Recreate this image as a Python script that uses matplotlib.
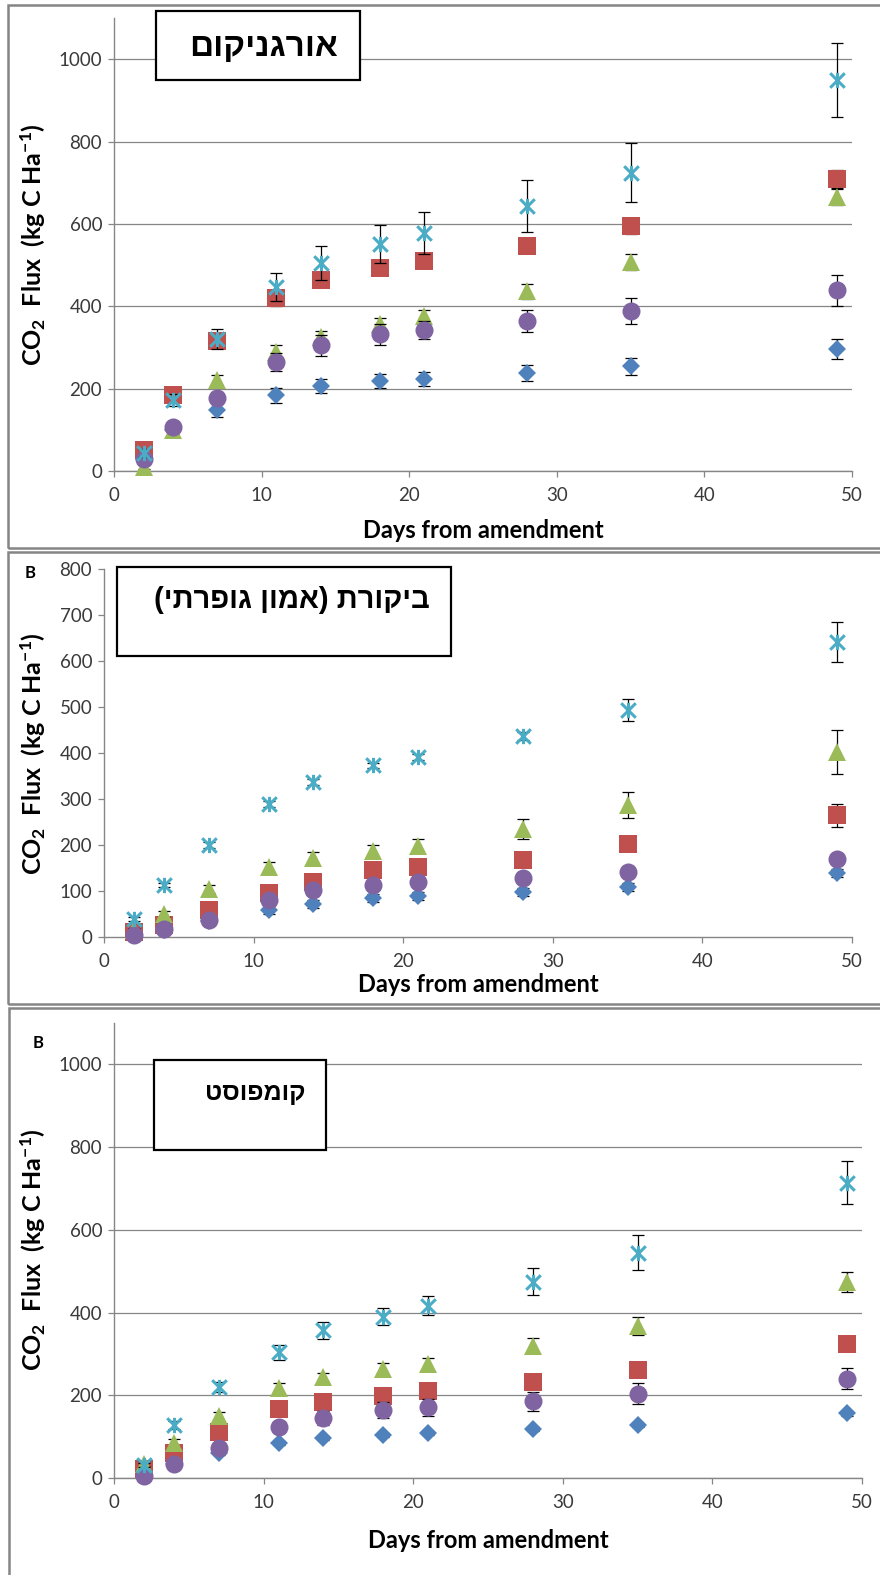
import matplotlib
matplotlib.use("Agg")
import matplotlib.pyplot as plt
from matplotlib.patches import Rectangle
from matplotlib.path import Path

plt.rcParams['font.family'] = ['Lato', 'DejaVu Sans']
plt.rcParams['mathtext.fontset'] = 'custom'
plt.rcParams['mathtext.rm'] = 'Lato'
plt.rcParams['mathtext.bf'] = 'Lato:bold'
plt.rcParams['mathtext.it'] = 'Lato:italic'

W, H = 880, 1575

days = [2, 4, 7, 11, 14, 18, 21, 28, 35, 49]

# Panel 1 - organic
p1_blue = [28, 100, 148, 184, 206, 218, 223, 238, 254, 296]
p1_blue_err = [8, 12, 18, 18, 17, 17, 17, 20, 20, 24]
p1_red = [50, 184, 315, 419, 465, 492, 511, 546, 595, 708]
p1_red_err = [8, 10, 15, 18, 15, 15, 15, 15, 20, 22]
p1_green = [10, 100, 222, 290, 325, 357, 376, 436, 508, 665]
p1_green_err = [5, 10, 12, 15, 15, 15, 15, 18, 20, 20]
p1_purple = [30, 106, 177, 264, 305, 332, 342, 364, 388, 439]
p1_purple_err = [8, 12, 15, 22, 25, 25, 22, 27, 32, 38]
p1_cyan = [43, 172, 320, 446, 506, 552, 579, 643, 724, 950]
p1_cyan_err = [10, 15, 24, 34, 41, 46, 51, 63, 72, 90]

# Panel 2 - control
p2_blue = [5, 15, 35, 59, 72, 85, 89, 98, 109, 139]
p2_blue_err = [3, 5, 6, 8, 8, 8, 8, 8, 8, 8]
p2_red = [10, 27, 58, 95, 120, 145, 152, 167, 203, 265]
p2_red_err = [4, 6, 8, 10, 10, 10, 10, 10, 12, 25]
p2_green = [15, 50, 104, 152, 172, 187, 198, 235, 287, 402]
p2_green_err = [4, 6, 8, 10, 12, 14, 16, 22, 29, 47]
p2_purple = [5, 17, 38, 80, 102, 113, 120, 128, 141, 169]
p2_purple_err = [3, 4, 5, 6, 6, 6, 6, 6, 6, 8]
p2_cyan = [39, 113, 200, 289, 337, 373, 391, 437, 494, 641]
p2_cyan_err = [4, 5, 6, 6, 6, 6, 6, 8, 24, 44]

# Panel 3 - compost
p3_blue = [5, 35, 60, 84, 96, 103, 108, 118, 128, 157]
p3_blue_err = [3, 4, 5, 5, 5, 5, 5, 5, 5, 6]
p3_red = [22, 60, 111, 166, 183, 198, 210, 232, 260, 325]
p3_red_err = [5, 8, 10, 12, 12, 12, 12, 12, 12, 15]
p3_green = [35, 84, 149, 217, 243, 263, 275, 320, 368, 474]
p3_green_err = [5, 10, 10, 12, 12, 14, 15, 19, 22, 25]
p3_purple = [5, 34, 72, 123, 145, 164, 171, 186, 204, 240]
p3_purple_err = [3, 5, 8, 10, 18, 20, 20, 23, 25, 25]
p3_cyan = [31, 128, 220, 304, 357, 390, 417, 475, 545, 714]
p3_cyan_err = [5, 10, 12, 18, 20, 20, 23, 33, 42, 52]

titles = ["אורגניקום", "ביקורת (אמון גופרתי)", "קומפוסט"]
panel_letters = ["", "B", "B"]
xlabel = "Days from amendment"
ylabel = r"CO$_\mathbf{2}$  Flux  (kg C Ha$^\mathbf{-1}$)"

colors = ['#4F81BD', '#C0504D', '#9BBB59', '#8064A2', '#4BACC6']

star = Path([(-1, -1), (1, 1), (-1, 1), (1, -1), (0, -1.05), (0, 1.05)],
            [Path.MOVETO, Path.LINETO, Path.MOVETO, Path.LINETO, Path.MOVETO, Path.LINETO])
markers = ['D', 's', '^', 'o', star]
msizes = [9.5, 12.5, 13, 13, 11]


def visual(s):
    r = s[::-1]
    return r.translate(str.maketrans({'(': ')', ')': '('}))


def px_rect(x0, x1, ytop, ybot):
    return [x0 / W, 1 - ybot / H, (x1 - x0) / W, (ybot - ytop) / H]


fig = plt.figure(figsize=(W / 100, H / 100), dpi=100)

# outer frames
for (x0, y0, x1, y1) in [(8, 5, 884, 548), (8, 552, 884, 1004), (9, 1008, 884, 1590)]:
    fig.add_artist(Rectangle((x0 / W, 1 - y1 / H), (x1 - x0) / W, (y1 - y0) / H,
                             transform=fig.transFigure, fill=False,
                             edgecolor='#858585', linewidth=1.8))

panels = [
    dict(rect=px_rect(114, 852, 18, 471), ymax=1100, ystep=200, grid=True,
         series=[(p1_blue, p1_blue_err), (p1_red, p1_red_err), (p1_green, p1_green_err),
                 (p1_purple, p1_purple_err), (p1_cyan, p1_cyan_err)],
         box=(156, 11, 360, 80), title_xy=(338, 47), tsize=24,
         ylab_y=245, xlab_y=530, letter_xy=None),
    dict(rect=px_rect(104, 852, 569, 937), ymax=800, ystep=100, grid=False,
         series=[(p2_blue, p2_blue_err), (p2_red, p2_red_err), (p2_green, p2_green_err),
                 (p2_purple, p2_purple_err), (p2_cyan, p2_cyan_err)],
         box=(117, 567, 451, 656), title_xy=(430, 600), tsize=21,
         ylab_y=754, xlab_y=985, letter_xy=(30, 573)),
    dict(rect=px_rect(114, 862, 1023, 1478), ymax=1100, ystep=200, grid=True,
         series=[(p3_blue, p3_blue_err), (p3_red, p3_red_err), (p3_green, p3_green_err),
                 (p3_purple, p3_purple_err), (p3_cyan, p3_cyan_err)],
         box=(154, 1060, 326, 1150), title_xy=(305, 1093), tsize=18,
         ylab_y=1250, xlab_y=1540, letter_xy=(38, 1043)),
]

for i, p in enumerate(panels):
    ax = fig.add_axes(p['rect'])
    ax.set_xlim(0, 50)
    ax.set_ylim(0, p['ymax'])
    ax.set_xticks(range(0, 51, 10))
    yt = list(range(0, 1001 if p['ymax'] > 1000 else p['ymax'] + 1, p['ystep']))
    ax.set_yticks(yt)
    for s in ['top', 'right']:
        ax.spines[s].set_visible(False)
    for s in ['left', 'bottom']:
        ax.spines[s].set_color('#868686')
        ax.spines[s].set_linewidth(1.0)
    ax.tick_params(axis='both', direction='out', length=4.5, width=0.9, color='#868686',
                   labelsize=13.5, labelcolor='#3a3a3a', pad=4)
    ax.tick_params(axis='x', pad=7)
    if p['grid']:
        ax.yaxis.grid(True, color='#868686', linewidth=0.9)
        ax.set_axisbelow(True)
    for j, (vals, errs) in enumerate(p['series']):
        ax.errorbar(days, vals, yerr=errs, fmt='none', ecolor='black', elinewidth=0.9,
                    capsize=4, capthick=0.9, zorder=3 + 2 * j)
        if j == 4:
            ax.plot(days, vals, linestyle='none', marker=markers[j], markersize=msizes[j],
                    markeredgecolor=colors[j], markeredgewidth=2.2, markerfacecolor='none',
                    zorder=3 + 2 * j + 1, clip_on=False)
        else:
            ax.plot(days, vals, linestyle='none', marker=markers[j], markersize=msizes[j],
                    color=colors[j], markeredgewidth=0, zorder=3 + 2 * j + 1, clip_on=False)

    # title box
    bx0, by0, bx1, by1 = p['box']
    fig.add_artist(Rectangle((bx0 / W, 1 - by1 / H), (bx1 - bx0) / W, (by1 - by0) / H,
                             transform=fig.transFigure, facecolor='white',
                             edgecolor='black', linewidth=1.6, zorder=20))
    tx, ty = p['title_xy']
    fig.text(tx / W, 1 - ty / H, visual(titles[i]), ha='right', va='center',
             fontsize=p['tsize'], fontweight='bold',
             family=['Liberation Sans', 'DejaVu Sans'], zorder=21)

    fig.text(33 / W, 1 - p['ylab_y'] / H, ylabel, rotation=90, ha='center', va='center',
             fontsize=18, fontweight='bold')
    x_center = (p['rect'][0] + p['rect'][2] / 2)
    fig.text(x_center, 1 - p['xlab_y'] / H, xlabel, ha='center', va='center',
             fontsize=17, fontweight='bold')
    if p['letter_xy'] is not None:
        lx, ly = p['letter_xy']
        fig.text(lx / W, 1 - ly / H, panel_letters[i], ha='center', va='center',
                 fontsize=12, fontweight='bold')

fig.savefig('out.png', dpi=100)
